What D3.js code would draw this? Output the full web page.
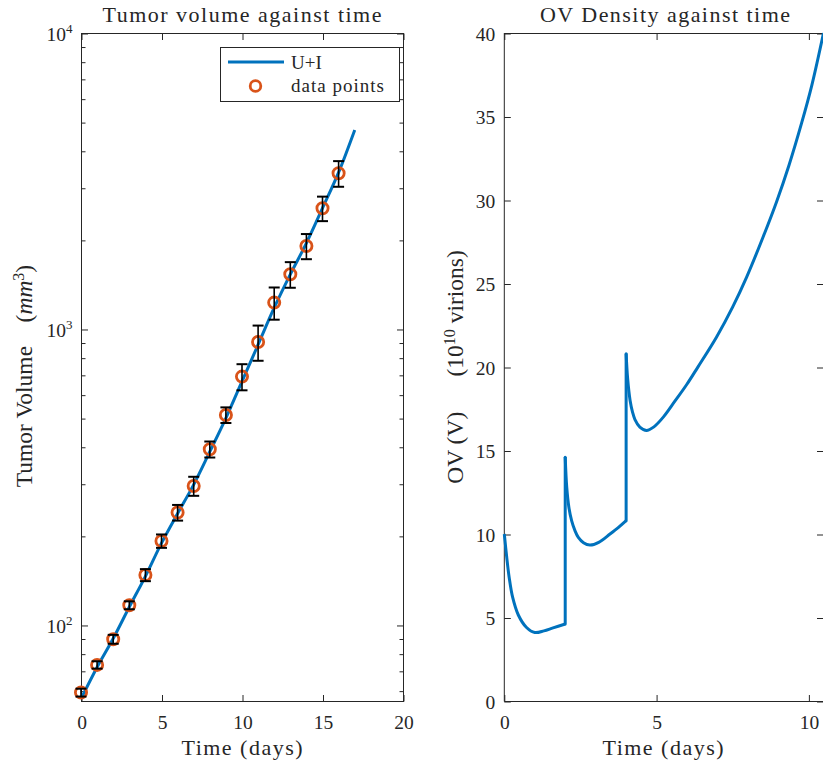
<!DOCTYPE html>
<html>
<head>
<meta charset="utf-8">
<script src="https://cdn.jsdelivr.net/npm/d3@7"></script>
<style>
  html, body { margin: 0; padding: 0; background: #fff; }
  svg { display: block; }
  text { font-family: "Liberation Serif", "Times New Roman", serif; fill: #262626; }
</style>
</head>
<body>
<svg id="chart" width="823" height="767"></svg>
<script>
// ---------------- DATA ----------------
// Left panel: measured tumour volume (mean ± error) by day
const dayPoints = [0,1,2,3,4,5,6,7,8,9,10,11,12,13,14,15,16];
const volumeMean = [59.1,73.3,89.5,116.6,147.5,192.2,239.8,294.9,392.3,512.3,690.5,903.9,1228,1530,1907,2557,3357];
const volumeErr  = [1.8,2.1,3.1,3.6,6.9,10.0,14.6,21.8,24.4,31.1,69.9,123,153,152,186,243,334];
// Left panel: model (U+I) curve
const modelT = [0,1,2,3,4,5,6,7,8,9,10,11,12,13,14,15,16,17];
const modelV = [56.3,72,90,115,146,189,238,298,385,500,665,885,1180,1530,1950,2560,3380,4700];
// Right panel: OV density, three dosing segments
const ovSeg1T = [0,0.08,0.16,0.275,0.46,0.73,1.0,1.3,1.6,2.0];
const ovSeg1V = [10,8.6,7.4,6.2,5.15,4.4,4.1,4.2,4.38,4.61];
const ovSeg2T = [2.0,2.05,2.12,2.21,2.32,2.43,2.6,2.81,3.1,3.47,3.75,4.0];
const ovSeg2V = [14.6,12.8,11.6,10.8,10.2,9.8,9.48,9.34,9.5,10.0,10.4,10.8];
const ovSeg3T = [4.0,4.05,4.13,4.21,4.29,4.45,4.67,4.9,5.22,5.6,5.99,6.35,6.97,7.5,7.96,8.5,8.94,9.35,9.76,10.1,10.48];
const ovSeg3V = [20.8,19.3,18.0,17.3,16.85,16.4,16.2,16.4,17.0,17.95,18.95,19.98,21.8,23.6,25.4,27.8,29.9,32.1,34.6,36.9,40.0];
// Tick values
const leftXTicks = [0,5,10,15,20];
const leftYTicks = [100,1000,10000];
const rightXTicks = [0,5,10];
const rightYTicks = [0,5,10,15,20,25,30,35,40];

// ---------------- STYLE ----------------
const axisColor = "#262626";
const blue = "#0072BD";
const orange = "#D95319";
const tickFont = 19.5;

const svg = d3.select("#chart");

// ---------------- LEFT PANEL ----------------
const L = {x0: 81, x1: 403, y0: 33, y1: 701};
const xL = d3.scaleLinear().domain([0, 20]).range([L.x0, L.x1]);
const yL = d3.scaleLog().domain([55.35, 10000]).range([L.y1, L.y0]);

function styleAxis(g) {
  g.select(".domain").remove();
  g.selectAll(".tick line").attr("stroke", axisColor).attr("stroke-width", 1);
  g.selectAll(".tick text").attr("fill", axisColor).attr("font-size", tickFont)
    .attr("font-family", "Liberation Serif, serif");
}

const gL = svg.append("g");
// box
gL.append("rect").attr("x", L.x0 + 0.5).attr("y", L.y0 + 0.5)
  .attr("width", L.x1 - L.x0).attr("height", L.y1 - L.y0)
  .attr("fill", "none").attr("stroke", axisColor).attr("stroke-width", 1);

// bottom axis
gL.append("g").attr("transform", `translate(0.5,${L.y1 + 0.5})`)
  .call(d3.axisBottom(xL).tickValues(leftXTicks).tickSize(-6.5).tickPadding(14).tickFormat(d3.format("d")))
  .call(styleAxis);
// top axis
gL.append("g").attr("transform", `translate(0.5,${L.y0 + 0.5})`)
  .call(d3.axisTop(xL).tickValues(leftXTicks).tickSize(-6.5).tickFormat(""))
  .call(styleAxis);
// minor log ticks
const minorTicks = [];
for (let e = 1; e <= 3; e++) for (let m = 2; m <= 9; m++) {
  const v = m * Math.pow(10, e);
  if (v > 55.35 && v < 10000) minorTicks.push(v);
}
gL.append("g").attr("transform", `translate(${L.x0 + 0.5},0.5)`)
  .call(d3.axisLeft(yL).tickValues(minorTicks).tickSize(-4).tickFormat(""))
  .call(styleAxis);
gL.append("g").attr("transform", `translate(${L.x1 + 0.5},0.5)`)
  .call(d3.axisRight(yL).tickValues(minorTicks).tickSize(-4).tickFormat(""))
  .call(styleAxis);
// major log ticks
const yLeftAxis = gL.append("g").attr("transform", `translate(${L.x0 + 0.5},0.5)`)
  .call(d3.axisLeft(yL).tickValues(leftYTicks).tickSize(-6.5).tickPadding(9).tickFormat(d => ""))
  .call(styleAxis);
yLeftAxis.selectAll(".tick text").each(function(d) {
  const t = d3.select(this).attr("dy", null).attr("y", 7);
  t.append("tspan").text("10");
  t.append("tspan").attr("dy", -8).attr("font-size", 13).text(String(Math.round(Math.log10(d))));
});
gL.append("g").attr("transform", `translate(${L.x1 + 0.5},0.5)`)
  .call(d3.axisRight(yL).tickValues(leftYTicks).tickSize(-6.5).tickFormat(""))
  .call(styleAxis);

// model line
const modelData = modelT.map((t, i) => ({t, v: modelV[i]}));
gL.append("path").datum(modelData)
  .attr("d", d3.line().x(d => xL(d.t)).y(d => yL(d.v)).curve(d3.curveMonotoneX))
  .attr("fill", "none").attr("stroke", blue).attr("stroke-width", 3);

// data points
const pts = dayPoints.map((t, i) => ({t, v: volumeMean[i], e: volumeErr[i]}));
gL.append("g").selectAll("circle").data(pts).join("circle")
  .attr("cx", d => xL(d.t)).attr("cy", d => yL(d.v)).attr("r", 5.6)
  .attr("fill", "none").attr("stroke", orange).attr("stroke-width", 2.8);

// error bars
const eb = gL.append("g").attr("stroke", "#000").attr("stroke-width", 1.6);
pts.forEach(d => {
  const x = xL(d.t), yt = yL(d.v + d.e), yb = yL(d.v - d.e);
  eb.append("line").attr("x1", x).attr("x2", x).attr("y1", yt).attr("y2", yb);
  eb.append("line").attr("x1", x - 5.5).attr("x2", x + 5.5).attr("y1", yt).attr("y2", yt).attr("stroke-width", 2);
  eb.append("line").attr("x1", x - 5.5).attr("x2", x + 5.5).attr("y1", yb).attr("y2", yb).attr("stroke-width", 2);
});

// legend
const lg = gL.append("g");
lg.append("rect").attr("x", 220.5).attr("y", 47.5).attr("width", 179).attr("height", 54)
  .attr("fill", "#fff").attr("stroke", axisColor).attr("stroke-width", 1);
lg.append("line").attr("x1", 228).attr("x2", 284).attr("y1", 62).attr("y2", 62)
  .attr("stroke", blue).attr("stroke-width", 3);
lg.append("text").attr("x", 291).attr("y", 68.5).attr("font-size", 19).text("U+I");
lg.append("circle").attr("cx", 255.5).attr("cy", 86).attr("r", 5.3)
  .attr("fill", "none").attr("stroke", orange).attr("stroke-width", 2.8);
lg.append("text").attr("x", 291).attr("y", 92).attr("font-size", 19)
  .attr("textLength", 93).attr("lengthAdjust", "spacing").text("data points");

// titles & labels
gL.append("text").attr("x", (L.x0 + L.x1) / 2).attr("y", 22).attr("text-anchor", "middle")
  .attr("font-size", 22).attr("textLength", 279).attr("lengthAdjust", "spacing")
  .text("Tumor volume against time");
gL.append("text").attr("x", (L.x0 + L.x1) / 2).attr("y", 755).attr("text-anchor", "middle")
  .attr("font-size", 22).attr("textLength", 121).attr("lengthAdjust", "spacing")
  .text("Time (days)");
const ylab = gL.append("text").attr("transform", "translate(32,376) rotate(-90)")
  .attr("text-anchor", "middle").attr("font-size", 23.5);
ylab.append("tspan").text("Tumor Volume\u2002\u2002(");
ylab.append("tspan").attr("font-style", "italic").text("mm");
ylab.append("tspan").attr("dy", -8).attr("font-size", 16).text("3");
ylab.append("tspan").attr("dy", 8).text(")");

// ---------------- RIGHT PANEL ----------------
const R = {x0: 504.3, x1: 823.5, y0: 33, y1: 701};
const xR = d3.scaleLinear().domain([0, 10.48]).range([R.x0, R.x1]);
const yR = d3.scaleLinear().domain([0, 40]).range([R.y1, R.y0]);
const gR = svg.append("g");

gR.append("line").attr("x1", R.x0).attr("x2", R.x0).attr("y1", R.y0).attr("y2", R.y1 + 0.5)
  .attr("stroke", axisColor).attr("stroke-width", 1);
gR.append("line").attr("x1", R.x0).attr("x2", R.x1).attr("y1", R.y1 + 0.5).attr("y2", R.y1 + 0.5)
  .attr("stroke", axisColor).attr("stroke-width", 1);
gR.append("line").attr("x1", R.x0).attr("x2", R.x1).attr("y1", R.y0 + 0.5).attr("y2", R.y0 + 0.5)
  .attr("stroke", axisColor).attr("stroke-width", 1);
gR.append("line").attr("x1", R.x1).attr("x2", R.x1).attr("y1", R.y0).attr("y2", R.y1)
  .attr("stroke", axisColor).attr("stroke-width", 1);

gR.append("g").attr("transform", `translate(0,${R.y1 + 0.5})`)
  .call(d3.axisBottom(xR).tickValues(rightXTicks).tickSize(-6.5).tickPadding(14).tickFormat(d3.format("d")))
  .call(styleAxis);
gR.append("g").attr("transform", `translate(0,${R.y0 + 0.5})`)
  .call(d3.axisTop(xR).tickValues(rightXTicks).tickSize(-6.5).tickFormat(""))
  .call(styleAxis);
const yRightAxis = gR.append("g").attr("transform", `translate(${R.x0},0.5)`)
  .call(d3.axisLeft(yR).tickValues(rightYTicks).tickSize(-6.5).tickPadding(9).tickFormat(d3.format("d")))
  .call(styleAxis);
yRightAxis.selectAll(".tick text").attr("dy", null).attr("y", 6.5);
gR.append("g").attr("transform", `translate(${R.x1},0.5)`)
  .call(d3.axisRight(yR).tickValues(rightYTicks).tickSize(-6.5).tickFormat(""))
  .call(styleAxis);

const seg = (T, V) => T.map((t, i) => ({t, v: V[i]}));
const s1 = seg(ovSeg1T, ovSeg1V), s2 = seg(ovSeg2T, ovSeg2V), s3 = seg(ovSeg3T, ovSeg3V);
const ovLine = d3.line().x(d => xR(d.t)).y(d => yR(d.v)).curve(d3.curveCatmullRom.alpha(0.5));
const linLine = d3.line().x(d => xR(d.t)).y(d => yR(d.v));
const gc = gR.append("g").attr("fill", "none").attr("stroke", blue).attr("stroke-width", 3)
  .attr("stroke-linejoin", "round").attr("stroke-linecap", "round");
[s1, s2, s3].forEach(s => gc.append("path").attr("d", ovLine(s)).attr("stroke-linecap", "butt"));
gc.append("path").attr("d", linLine([s1[s1.length - 1], s2[0]]));
gc.append("path").attr("d", linLine([s2[s2.length - 1], s3[0]]));

gR.append("text").attr("x", 665).attr("y", 22).attr("text-anchor", "middle")
  .attr("font-size", 22).attr("textLength", 250).attr("lengthAdjust", "spacing")
  .text("OV Density against time");
gR.append("text").attr("x", 663).attr("y", 755).attr("text-anchor", "middle")
  .attr("font-size", 22).attr("textLength", 121).attr("lengthAdjust", "spacing")
  .text("Time (days)");
const ylabR = gR.append("text").attr("transform", "translate(463,367) rotate(-90)")
  .attr("text-anchor", "middle").attr("font-size", 23.5);
ylabR.append("tspan").text("OV (V)\u2003\u2002(10");
ylabR.append("tspan").attr("dy", -8).attr("font-size", 16).text("10");
ylabR.append("tspan").attr("dy", 8).text(" virions)");
</script>
</body>
</html>
